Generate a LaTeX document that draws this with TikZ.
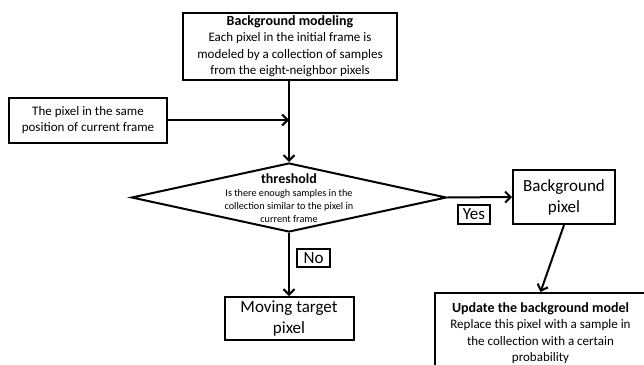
\documentclass[tikz,border=0pt]{standalone}
\usepackage{fontspec}
\setmainfont{Carlito}
\usetikzlibrary{arrows.meta,shapes.geometric}
\tikzset{
  box/.style={draw, line width=2pt, align=center, inner sep=1pt},
  flow/.style={line width=2pt, -{Straight Barb[length=5.5pt,width=11pt]}},
  body/.style={font=\fontsize{13}{16.5}\selectfont},
  big/.style={font=\fontsize{17}{21}\selectfont},
  small/.style={font=\fontsize{10.2}{12.8}\selectfont},
}
\newcommand{\headline}[1]{{\bfseries\fontsize{14}{16}\selectfont #1}}
\begin{document}
\begin{tikzpicture}[x=1pt,y=-1pt]
  \useasboundingbox[fill=white] (0,0) rectangle (644,364);

  % process boxes
  \node[box, body, minimum width=214pt, minimum height=67pt] (model) at (290,46)
    {\headline{Background modeling}\\Each pixel in the initial frame is\\modeled by a collection of samples\\from the eight-neighbor pixels};
  \node[box, body, minimum width=158pt, minimum height=45pt] (pix) at (88,120)
    {The pixel in the same\\position of current frame};

  % decision
  \node[draw, diamond, line width=2pt, minimum width=315pt, minimum height=69pt, inner sep=0pt] (thr) at (289,197.5) {};
  \node[small, align=center] (thrtext) at (289,198)
    {\headline{threshold}\\[0.5pt]Is there enough samples in the\\collection similar to the pixel in\\current frame};

  % outcomes
  \node[box, big, minimum width=102pt, minimum height=54pt] (bgpix) at (564,197)
    {Background\\pixel};
  \node[box, big, minimum width=129pt, minimum height=43pt] (move) at (289,318.5)
    {Moving target\\pixel};
  \node[box, body, minimum width=211pt, minimum height=80pt, anchor=north west] (update) at (434,292)
    {\headline{Update the background model}\\Replace this pixel with a sample in\\the collection with a certain\\probability};

  % branch labels
  \node[box, big, minimum width=32pt, minimum height=19pt, inner sep=0pt] (yes) at (474,214.5) {Yes};
  \node[box, big, minimum width=33pt, minimum height=18pt, inner sep=0pt] (no) at (313.5,258) {No};

  % connectors
  \draw[flow] (model.south -| thr.north) -- (thr.north);
  \draw[flow] (pix.east) -- (pix.east -| thr.north);
  \draw[flow] (thr.east) -- (bgpix.west);
  \draw[flow] (thr.south) -- (move.north);
  \draw[flow] (bgpix.south) -- (update.north);
\end{tikzpicture}
\end{document}
